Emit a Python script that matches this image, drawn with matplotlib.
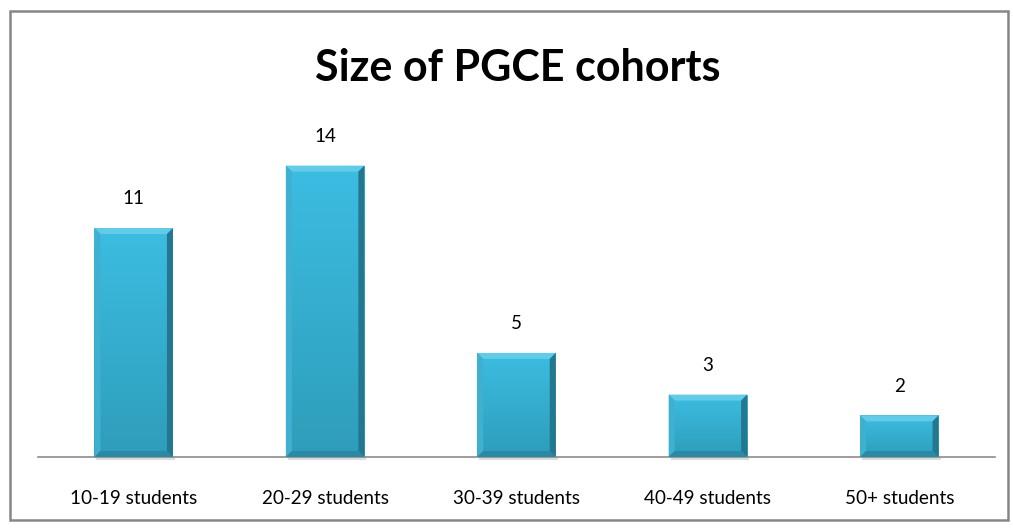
import matplotlib
matplotlib.use("Agg")
import matplotlib.pyplot as plt
import numpy as np
from matplotlib.patches import Rectangle, Polygon
from matplotlib.colors import LinearSegmentedColormap

categories = ["10-19 students", "20-29 students", "30-39 students", "40-49 students", "50+ students"]
values = [11, 14, 5, 3, 2]
title = "Size of PGCE cohorts"

plt.rcParams['font.family'] = ['Lato', 'DejaVu Sans']

W, H = 1013, 531
fig = plt.figure(figsize=(W/100, H/100), dpi=100)
ax = fig.add_axes([38/W, 1-457/H, (995-38)/W, (457-124)/H])

x = np.arange(len(categories))
bw = 0.41
ax.set_xlim(-0.5, len(categories)-0.5)
ax.set_ylim(0, 16)

cmap = LinearSegmentedColormap.from_list("b", ["#2e9dba", "#3cbde2"])
grad = np.linspace(0, 1, 256).reshape(-1, 1)

# pixel -> data conversion
px_x = (len(categories)) / (995-38)
px_y = 16 / (457-124)
bev = 6

for xi, v in zip(x, values):
    x0, x1 = xi - bw/2, xi + bw/2
    # shadow
    ax.add_patch(Rectangle((x0+2*px_x, -3*px_y), bw, 3*px_y, color="#bbbbbb", alpha=0.5, lw=0, clip_on=False, zorder=1))
    rect = Rectangle((x0, 0), bw, v, facecolor="none", edgecolor="none", zorder=2)
    ax.add_patch(rect)
    im = ax.imshow(grad, extent=(x0, x1, 0, v), origin="lower", cmap=cmap, aspect="auto", zorder=2)
    im.set_clip_path(rect)
    bx, by = bev*px_x, bev*px_y
    # top bevel (light)
    ax.add_patch(Polygon([(x0, v), (x1, v), (x1-bx, v-by), (x0+bx, v-by)], closed=True, color="#62cbe8", lw=0, zorder=3))
    # left bevel
    ax.add_patch(Polygon([(x0, v), (x0+bx, v-by), (x0+bx, by), (x0, 0)], closed=True, color="#40b0d0", lw=0, zorder=3))
    # right bevel (dark)
    ax.add_patch(Polygon([(x1, v), (x1-bx, v-by), (x1-bx, by), (x1, 0)], closed=True, color="#23778f", lw=0, zorder=3))
    # bottom bevel
    ax.add_patch(Polygon([(x0, 0), (x1, 0), (x1-bx, by), (x0+bx, by)], closed=True, color="#2a8aa5", lw=0, zorder=3))
    ax.text(xi, v + 1.0, str(v), ha="center", va="bottom", fontsize=13.5, color="#000000")

for s in ["top", "right", "left"]:
    ax.spines[s].set_visible(False)
ax.spines["bottom"].set_color("#8c8c8c")
ax.spines["bottom"].set_linewidth(1.2)
ax.set_yticks([])
ax.set_xticks(x)
ax.set_xticklabels(categories, fontsize=13.6)
ax.tick_params(axis="x", length=0, pad=24)

fig.text(518/W, 1-68/H, title, ha="center", va="center", fontsize=31, fontweight="bold")

fig.add_artist(Rectangle((10/W, 1-520/H), 998/W, 509/H, transform=fig.transFigure,
                         fill=False, edgecolor="#868686", lw=1.8))

fig.savefig("out.png", dpi=100)
